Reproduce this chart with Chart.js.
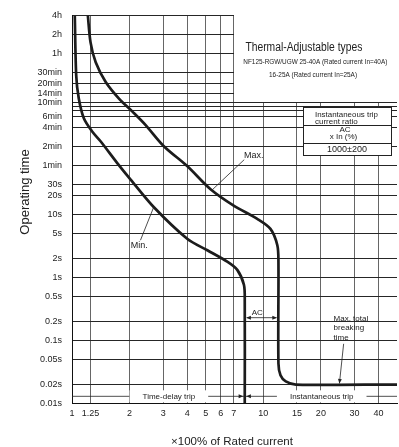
<!DOCTYPE html>
<html>
<head>
<meta charset="utf-8">
<script src="https://cdn.jsdelivr.net/npm/chart.js@4.4.1/dist/chart.umd.min.js"></script>
<style>
  html, body { margin: 0; padding: 0; background: #fff; }
  #chart { display: block; }
</style>
</head>
<body>
<canvas id="chart" width="399" height="447"></canvas>
<script>
// Axis ticks (x = multiple of rated current, y = operating time in seconds)
const xTickValues = [1, 1.25, 2, 3, 4, 5, 6, 7, 10, 15, 20, 30, 40];
const xTickLabels = ['1', '1.25', '2', '3', '4', '5', '6', '7', '10', '15', '20', '30', '40'];
const yTickValues = [0.01, 0.02, 0.05, 0.1, 0.2, 0.5, 1, 2, 5, 10, 20, 30, 60, 120, 240, 360, 440, 510, 600, 840, 1200, 1800, 3600, 7200, 14400];
const yTickLabels = ['0.01s', '0.02s', '0.05s', '0.1s', '0.2s', '0.5s', '1s', '2s', '5s', '10s', '20s', '30s',
                     '1min', '2min', '4min', '6min', '', '', '10min', '14min', '20min', '30min', '1h', '2h', '4h'];

// Max. curve (upper limit of operating time)
const maxCurveX = [1.21, 1.25, 1.33, 1.5, 1.76, 2.07, 2.42, 3.02, 4.0, 5.3, 7.0, 9.3, 10.9, 11.84, 12.0, 12.0, 12.3, 13.1, 14.8, 50];
const maxCurveY = [14400, 5370, 2600, 1265, 690, 428, 264, 121, 58.6, 25.1, 13.8, 8.5, 5.9, 3.25, 1.78, 0.043, 0.028, 0.0224, 0.02, 0.02];

// Min. curve (lower limit of operating time)
const minCurveX = [1.034, 1.052, 1.085, 1.153, 1.275, 1.41, 1.72, 2.02, 2.68, 4.0, 5.1, 6.48, 7.31, 7.92, 8.0, 8.0];
const minCurveY = [14400, 1600, 690, 336, 207, 145, 66, 36.1, 13.0, 4.12, 2.7, 1.78, 1.32, 0.765, 0.42, 0.01];

// Instantaneous trip range (x In)
const instantMin = 8;
const instantMax = 12;

const FONT = "'Liberation Sans', Arial, sans-serif";
Chart.defaults.font.family = FONT;

function toPoints(xs, ys) {
    return xs.map((v, i) => ({ x: v, y: ys[i] }));
}

function arrowHead(ctx, tipX, tipY, angle, size) {
    ctx.beginPath();
    ctx.moveTo(tipX, tipY);
    ctx.lineTo(tipX - size * Math.cos(angle - 0.4), tipY - size * Math.sin(angle - 0.4));
    ctx.lineTo(tipX - size * Math.cos(angle + 0.4), tipY - size * Math.sin(angle + 0.4));
    ctx.closePath();
    ctx.fill();
}

function gridPx(p) {
    return Math.round(p - 0.5) + 0.5;
}

const annotations = {
    id: 'annotations',
    beforeDatasetsDraw(chart) {
        // blank the title block region (right of 7x, above 10min)
        const { ctx, chartArea: a, scales: { x, y } } = chart;
        const bx = gridPx(x.getPixelForValue(7)) + 0.5;
        const by = gridPx(y.getPixelForValue(600)) - 0.5;
        ctx.save();
        ctx.fillStyle = '#fff';
        ctx.fillRect(bx, a.top - 2, a.right - bx + 3, by - a.top + 2);
        ctx.restore();
    },
    afterDatasetsDraw(chart) {
        const { ctx, chartArea: a, scales: { x, y } } = chart;
        const X = v => x.getPixelForValue(v);
        const Y = v => y.getPixelForValue(v);
        ctx.save();
        ctx.fillStyle = '#222';
        ctx.strokeStyle = '#222';
        ctx.textBaseline = 'middle';

        // Title block
        ctx.textAlign = 'center';
        ctx.font = '12.5px ' + FONT;
        ctx.fillText('Thermal-Adjustable types', X(16.3), Y(4370), 117);
        ctx.font = '7px ' + FONT;
        ctx.fillText('NF125-RGW/UGW 25-40A (Rated current In=40A)', X(18.7), Y(2660), 144);
        ctx.fillText('16-25A (Rated current In=25A)', X(18.2), Y(1650), 88);

        // Instantaneous trip current ratio table
        const tx = gridPx(X(16.3)), ty = gridPx(Y(500));
        const tw = Math.round(X(46.7) - tx);
        ctx.fillStyle = '#fff';
        ctx.fillRect(tx, ty, tw, 48);
        ctx.lineWidth = 1;
        ctx.strokeRect(tx, ty, tw, 48);
        ctx.beginPath();
        ctx.moveTo(tx, ty + 18); ctx.lineTo(tx + tw, ty + 18);
        ctx.moveTo(tx, ty + 36); ctx.lineTo(tx + tw, ty + 36);
        ctx.stroke();
        ctx.fillStyle = '#222';
        ctx.font = '8px ' + FONT;
        ctx.textAlign = 'left';
        ctx.fillText('Instantaneous trip', tx + 11.5, ty + 7, 63);
        ctx.fillText('current ratio', tx + 11.5, ty + 14, 50);
        ctx.textAlign = 'center';
        ctx.fillText('AC', tx + 41.5, ty + 22);
        ctx.fillText('x In (%)', tx + 40, ty + 29);
        ctx.font = '9px ' + FONT;
        ctx.fillText(tripRatioText, tx + 43.5, ty + 42);

        // Max. / Min. labels with leaders
        ctx.lineWidth = 0.8;
        ctx.font = '9px ' + FONT;
        ctx.textAlign = 'left';
        ctx.fillText('Max.', X(7.92), Y(86));
        ctx.beginPath();
        ctx.moveTo(X(7.95), Y(74)); ctx.lineTo(X(5.41), Y(24.6));
        ctx.stroke();
        ctx.textAlign = 'center';
        ctx.fillText('Min.', X(2.25), Y(3.25));
        ctx.beginPath();
        ctx.moveTo(X(2.28), Y(3.9)); ctx.lineTo(X(2.68), Y(13.3));
        ctx.stroke();

        // AC dimension between instantaneous limits
        const x8 = X(instantMin), x12 = X(instantMax), yAc = Y(0.23);
        ctx.beginPath();
        ctx.moveTo(x8 + 2, yAc); ctx.lineTo(x12 - 2, yAc);
        ctx.stroke();
        arrowHead(ctx, x8 + 1.5, yAc, Math.PI, 5);
        arrowHead(ctx, x12 - 1.5, yAc, 0, 5);
        ctx.font = '8px ' + FONT;
        ctx.fillText('AC', X(9.3), Y(0.274));

        // Max. total breaking time
        ctx.textAlign = 'left';
        const bx = X(23.3), by = Y(0.224);
        ctx.fillText('Max. total', bx, by);
        ctx.fillText('breaking', bx, by + 9.7);
        ctx.fillText('time', bx, by + 19.4);
        const sx = X(26.3), sy = Y(0.0885), ex = X(25), ey = Y(0.02) - 1;
        ctx.beginPath();
        ctx.moveTo(sx, sy); ctx.lineTo(ex, ey);
        ctx.stroke();
        arrowHead(ctx, ex, ey, Math.atan2(ey - sy, ex - sx), 5);

        // Time-delay / Instantaneous trip bar
        const yt = Y(0.013);
        ctx.beginPath();
        ctx.moveTo(a.left, yt); ctx.lineTo(a.right, yt);
        ctx.stroke();
        ctx.font = '8px ' + FONT;
        [['Time-delay trip', 3.21], ['Instantaneous trip', 20.2]].forEach(([t, v]) => {
            const w = ctx.measureText(t).width;
            const cx = X(v);
            ctx.fillStyle = '#fff';
            ctx.fillRect(cx - w / 2 - 13, yt - 6, w + 26, 12);
            ctx.fillStyle = '#222';
            ctx.textAlign = 'center';
            ctx.fillText(t, cx, yt);
        });
        arrowHead(ctx, x8 - 1.5, yt, 0, 5);
        arrowHead(ctx, x8 + 1.5, yt, Math.PI, 5);

        // Axis titles
        ctx.fillStyle = '#222';
        ctx.textAlign = 'center';
        ctx.font = '11.5px ' + FONT;
        ctx.fillText('\u00d7100% of Rated current', 232, 441.5);
        ctx.save();
        ctx.translate(25, 192);
        ctx.rotate(-Math.PI / 2);
        ctx.font = '13px ' + FONT;
        ctx.fillText('Operating time', 0, 0);
        ctx.restore();

        ctx.restore();
    }
};

const tripRatioText = '1000\u00b1200';

new Chart(document.getElementById('chart'), {
    type: 'line',
    data: {
        datasets: [{
            label: 'Max.',
            data: toPoints(maxCurveX, maxCurveY),
            borderColor: '#1c1c1c',
            borderWidth: 2.7,
            pointRadius: 0,
            tension: 0.3,
            fill: false
        }, {
            label: 'Min.',
            data: toPoints(minCurveX, minCurveY),
            borderColor: '#1c1c1c',
            borderWidth: 2.7,
            pointRadius: 0,
            tension: 0.3,
            fill: false
        }]
    },
    options: {
        responsive: false,
        animation: false,
        layout: { padding: { top: 12, right: 2, left: 0, bottom: 0 } },
        plugins: {
            legend: { display: false },
            tooltip: { enabled: false }
        },
        scales: {
            x: {
                type: 'logarithmic',
                min: 1,
                max: 50,
                afterBuildTicks: s => { s.ticks = xTickValues.map(v => ({ value: v })); },
                afterFit: s => { s.height = 43.5; },
                ticks: {
                    autoSkip: false,
                    maxRotation: 0,
                    padding: 5,
                    color: '#222',
                    font: { size: 9 },
                    callback: v => xTickLabels[xTickValues.indexOf(v)] ?? ''
                },
                grid: { color: '#666', lineWidth: 1, drawTicks: false },
                border: { color: '#111', width: 1 }
            },
            y: {
                type: 'logarithmic',
                min: 0.01,
                max: 14400,
                afterBuildTicks: s => { s.ticks = yTickValues.map(v => ({ value: v })); },
                afterFit: s => { s.width = 72; },
                ticks: {
                    autoSkip: false,
                    padding: 10,
                    color: '#222',
                    font: { size: 9 },
                    callback: v => yTickLabels[yTickValues.indexOf(v)] ?? ''
                },
                grid: { color: '#262626', lineWidth: 1, drawTicks: false },
                border: { color: '#111', width: 1 }
            }
        }
    },
    plugins: [annotations]
});
</script>
</body>
</html>
